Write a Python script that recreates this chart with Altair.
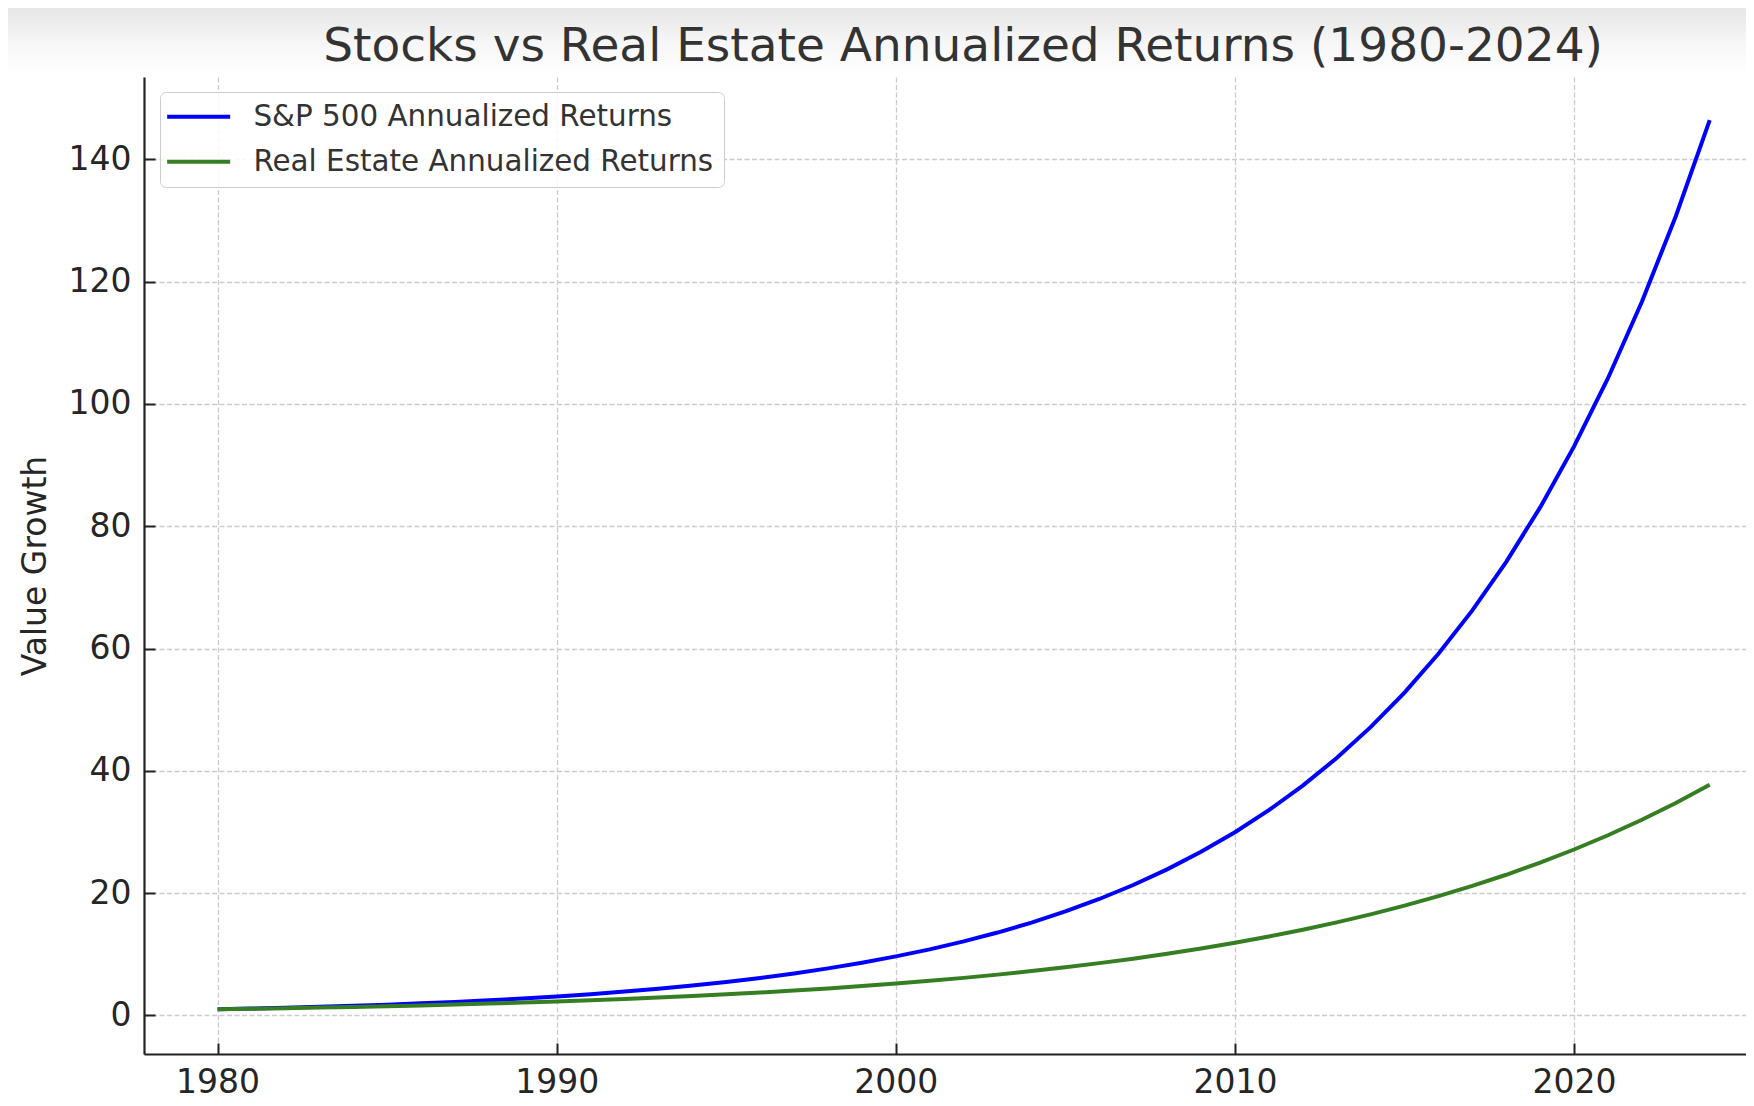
import altair as alt
import pandas as pd

years = list(range(1980, 2025))
sp500 = [1.00, 1.12, 1.25, 1.40, 1.57, 1.76, 1.97, 2.21, 2.48, 2.77,
         3.11, 3.48, 3.90, 4.36, 4.89, 5.47, 6.13, 6.87, 7.69, 8.61,
         9.65, 10.80, 12.10, 13.55, 15.18, 17.00, 19.04, 21.32, 23.88, 26.75,
         29.96, 33.56, 37.58, 42.09, 47.14, 52.80, 59.14, 66.23, 74.18, 83.08,
         93.05, 104.2, 116.7, 130.7, 146.4]
real_estate = [1.00, 1.09, 1.18, 1.28, 1.39, 1.51, 1.64, 1.78, 1.94, 2.10,
               2.28, 2.48, 2.69, 2.92, 3.18, 3.45, 3.74, 4.07, 4.42, 4.80,
               5.21, 5.66, 6.14, 6.67, 7.25, 7.87, 8.55, 9.28, 10.08, 10.94,
               11.89, 12.91, 14.02, 15.22, 16.53, 17.96, 19.50, 21.18, 23.00, 24.98,
               27.13, 29.46, 31.99, 34.74, 37.73]
series_names = ["S&P 500 Annualized Returns", "Real Estate Annualized Returns"]
series_colors = ["#0000ff", "#357f22"]
x_ticks = [1980, 1990, 2000, 2010, 2020]
y_ticks = [0, 20, 40, 60, 80, 100, 120, 140]
title_text = "Stocks vs Real Estate Annualized Returns (1980-2024)"
y_title = "Value Growth"

rows = []
for name, vals in zip(series_names, [sp500, real_estate]):
    for yr, v in zip(years, vals):
        rows.append({"year": yr, "value": v, "series": name})
df = pd.DataFrame(rows)

W, H = 1602, 977
FONT = "DejaVu Sans"

xscale = alt.Scale(domain=[1977.83, 2025.07], nice=False, zero=False)
yscale = alt.Scale(domain=[-6.31, 153.46], nice=False, zero=False)

bg = alt.Chart(pd.DataFrame({"k": [0]})).mark_rect(
    color=alt.LinearGradient(
        gradient="linear",
        stops=[alt.GradientStop(color="#e6e6e6", offset=0),
               alt.GradientStop(color="#f6f6f6", offset=0.5),
               alt.GradientStop(color="#ffffff", offset=1)],
        x1=0, x2=0, y1=0, y2=1),
).encode(x=alt.value(-136), x2=alt.value(W), y=alt.value(-69), y2=alt.value(-2))

lines = alt.Chart(df).mark_line(strokeWidth=4, clip=True).encode(
    x=alt.X("year:Q", scale=xscale,
            axis=alt.Axis(values=x_ticks, format="d", title=None, grid=True,
                          ticks=False, tickSize=0, domain=True, labelPadding=12,
                          labelFontSize=33, labelFont=FONT, labelColor="#262626",
                          domainColor="#222222", domainWidth=2.2,
                          gridColor="#cccccc", gridDash=[5, 2.5], gridWidth=1.3)),
    y=alt.Y("value:Q", scale=yscale,
            axis=alt.Axis(values=y_ticks, title=y_title, grid=True,
                          ticks=False, tickSize=0, domain=True, labelPadding=13,
                          labelFontSize=33, labelFont=FONT, labelColor="#262626",
                          domainColor="#222222", domainWidth=2.2,
                          gridColor="#cccccc", gridDash=[5, 2.5], gridWidth=1.3,
                          titleFontSize=33, titleFont=FONT, titleFontWeight="normal",
                          titleColor="#262626", titlePadding=16)),
    color=alt.Color("series:N",
                    scale=alt.Scale(domain=series_names, range=series_colors),
                    sort=series_names,
                    legend=alt.Legend(title=None, orient="none", legendX=16, legendY=15,
                                      symbolType="M-1.67,0H4.33", symbolSize=441,
                                      symbolStrokeWidth=4, labelFontSize=29.4,
                                      labelFont=FONT, labelColor="#333333",
                                      labelOffset=54, rowPadding=14, padding=10,
                                      strokeColor="#cccccc",
                                      fillColor="rgba(255,255,255,0.85)",
                                      cornerRadius=6, labelLimit=0)),
)

tick_layer = alt.Chart(df).mark_line(opacity=0).encode(
    x=alt.X("year:Q", scale=xscale,
            axis=alt.Axis(values=x_ticks, orient="bottom", offset=-11, domain=False,
                          labels=False, grid=False, ticks=True, tickSize=11,
                          tickWidth=2, tickColor="#222222", title=None)),
    y=alt.Y("value:Q", scale=yscale,
            axis=alt.Axis(values=y_ticks, orient="left", offset=-11, domain=False,
                          labels=False, grid=False, ticks=True, tickSize=11,
                          tickWidth=2, tickColor="#222222", title=None)),
)

chart = alt.layer(bg, lines, tick_layer).resolve_axis(
    x="independent", y="independent"
).properties(
    width=W, height=H,
    autosize=alt.AutoSizeParams(type="none"),
    padding={"left": 136, "top": 69, "right": 0, "bottom": 52},
    title=alt.TitleParams(text=title_text, fontSize=47, font=FONT,
                          fontWeight="normal", color="#333333", anchor="middle",
                          dx=18, offset=-100, baseline="alphabetic", frame="group"),
).configure_view(strokeWidth=0)

chart.save("out.html", embed_options={"renderer": "svg", "actions": False})
